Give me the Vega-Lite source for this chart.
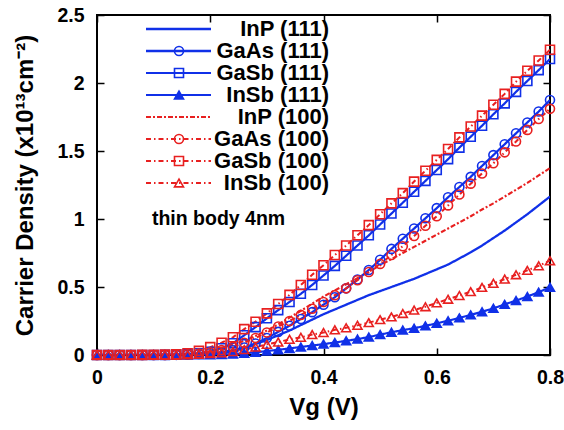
{
"$schema":"https://vega.github.io/schema/vega-lite/v6.json",
"width":453,"height":340,
"autosize":{"type":"none"},
"padding":{"left":97,"top":15,"right":14,"bottom":75},
"background":"white",
"config":{
 "font":"Liberation Sans",
 "view":{"stroke":"black","strokeWidth":2},
 "axis":{"labelFont":"Liberation Sans","labelFontSize":19.5,"labelFontWeight":"bold","labelColor":"black","titleFont":"Liberation Sans","titleFontSize":24,"titleFontWeight":"bold","titleColor":"black","grid":false,"domain":false,"tickColor":"black","tickWidth":1.5,"tickSize":-7},
 "legend":{"labelFont":"Liberation Sans","labelFontSize":22,"labelFontWeight":"bold","labelColor":"black","padding":0,"rowPadding":-1.1}
},
"data":{"values":[
{"s":"InP (111)","x":0,"y":0},{"s":"InP (111)","x":0.02,"y":0},{"s":"InP (111)","x":0.04,"y":0},{"s":"InP (111)","x":0.06,"y":0},{"s":"InP (111)","x":0.08,"y":0},{"s":"InP (111)","x":0.1,"y":0},{"s":"InP (111)","x":0.12,"y":0},{"s":"InP (111)","x":0.14,"y":0},{"s":"InP (111)","x":0.16,"y":0.001},{"s":"InP (111)","x":0.18,"y":0.003},{"s":"InP (111)","x":0.2,"y":0.008},{"s":"InP (111)","x":0.22,"y":0.016},{"s":"InP (111)","x":0.24,"y":0.028},{"s":"InP (111)","x":0.26,"y":0.05},{"s":"InP (111)","x":0.28,"y":0.08},{"s":"InP (111)","x":0.3,"y":0.11},{"s":"InP (111)","x":0.32,"y":0.145},{"s":"InP (111)","x":0.34,"y":0.18},{"s":"InP (111)","x":0.36,"y":0.22},{"s":"InP (111)","x":0.38,"y":0.26},{"s":"InP (111)","x":0.4,"y":0.3},{"s":"InP (111)","x":0.42,"y":0.335},{"s":"InP (111)","x":0.44,"y":0.37},{"s":"InP (111)","x":0.46,"y":0.405},{"s":"InP (111)","x":0.48,"y":0.44},{"s":"InP (111)","x":0.5,"y":0.47},{"s":"InP (111)","x":0.52,"y":0.5},{"s":"InP (111)","x":0.54,"y":0.53},{"s":"InP (111)","x":0.56,"y":0.56},{"s":"InP (111)","x":0.58,"y":0.595},{"s":"InP (111)","x":0.6,"y":0.63},{"s":"InP (111)","x":0.62,"y":0.665},{"s":"InP (111)","x":0.64,"y":0.71},{"s":"InP (111)","x":0.66,"y":0.755},{"s":"InP (111)","x":0.68,"y":0.805},{"s":"InP (111)","x":0.7,"y":0.86},{"s":"InP (111)","x":0.72,"y":0.915},{"s":"InP (111)","x":0.74,"y":0.975},{"s":"InP (111)","x":0.76,"y":1.035},{"s":"InP (111)","x":0.78,"y":1.1},{"s":"InP (111)","x":0.8,"y":1.165},
{"s":"GaAs (111)","x":0,"y":0},{"s":"GaAs (111)","x":0.02,"y":0},{"s":"GaAs (111)","x":0.04,"y":0},{"s":"GaAs (111)","x":0.06,"y":0},{"s":"GaAs (111)","x":0.08,"y":0},{"s":"GaAs (111)","x":0.1,"y":0},{"s":"GaAs (111)","x":0.12,"y":0},{"s":"GaAs (111)","x":0.14,"y":0.001},{"s":"GaAs (111)","x":0.16,"y":0.003},{"s":"GaAs (111)","x":0.18,"y":0.007},{"s":"GaAs (111)","x":0.2,"y":0.013},{"s":"GaAs (111)","x":0.22,"y":0.022},{"s":"GaAs (111)","x":0.24,"y":0.035},{"s":"GaAs (111)","x":0.26,"y":0.055},{"s":"GaAs (111)","x":0.28,"y":0.085},{"s":"GaAs (111)","x":0.3,"y":0.125},{"s":"GaAs (111)","x":0.32,"y":0.17},{"s":"GaAs (111)","x":0.34,"y":0.215},{"s":"GaAs (111)","x":0.36,"y":0.265},{"s":"GaAs (111)","x":0.38,"y":0.315},{"s":"GaAs (111)","x":0.4,"y":0.37},{"s":"GaAs (111)","x":0.42,"y":0.425},{"s":"GaAs (111)","x":0.44,"y":0.49},{"s":"GaAs (111)","x":0.46,"y":0.555},{"s":"GaAs (111)","x":0.48,"y":0.625},{"s":"GaAs (111)","x":0.5,"y":0.7},{"s":"GaAs (111)","x":0.52,"y":0.78},{"s":"GaAs (111)","x":0.54,"y":0.855},{"s":"GaAs (111)","x":0.56,"y":0.93},{"s":"GaAs (111)","x":0.58,"y":1.005},{"s":"GaAs (111)","x":0.6,"y":1.08},{"s":"GaAs (111)","x":0.62,"y":1.16},{"s":"GaAs (111)","x":0.64,"y":1.235},{"s":"GaAs (111)","x":0.66,"y":1.31},{"s":"GaAs (111)","x":0.68,"y":1.39},{"s":"GaAs (111)","x":0.7,"y":1.47},{"s":"GaAs (111)","x":0.72,"y":1.55},{"s":"GaAs (111)","x":0.74,"y":1.63},{"s":"GaAs (111)","x":0.76,"y":1.71},{"s":"GaAs (111)","x":0.78,"y":1.79},{"s":"GaAs (111)","x":0.8,"y":1.875},
{"s":"GaSb (111)","x":0,"y":0},{"s":"GaSb (111)","x":0.02,"y":0},{"s":"GaSb (111)","x":0.04,"y":0},{"s":"GaSb (111)","x":0.06,"y":0},{"s":"GaSb (111)","x":0.08,"y":0},{"s":"GaSb (111)","x":0.1,"y":0},{"s":"GaSb (111)","x":0.12,"y":0.001},{"s":"GaSb (111)","x":0.14,"y":0.003},{"s":"GaSb (111)","x":0.16,"y":0.007},{"s":"GaSb (111)","x":0.18,"y":0.013},{"s":"GaSb (111)","x":0.2,"y":0.024},{"s":"GaSb (111)","x":0.22,"y":0.05},{"s":"GaSb (111)","x":0.24,"y":0.086},{"s":"GaSb (111)","x":0.26,"y":0.145},{"s":"GaSb (111)","x":0.28,"y":0.205},{"s":"GaSb (111)","x":0.3,"y":0.27},{"s":"GaSb (111)","x":0.32,"y":0.33},{"s":"GaSb (111)","x":0.34,"y":0.39},{"s":"GaSb (111)","x":0.36,"y":0.45},{"s":"GaSb (111)","x":0.38,"y":0.515},{"s":"GaSb (111)","x":0.4,"y":0.585},{"s":"GaSb (111)","x":0.42,"y":0.655},{"s":"GaSb (111)","x":0.44,"y":0.73},{"s":"GaSb (111)","x":0.46,"y":0.805},{"s":"GaSb (111)","x":0.48,"y":0.88},{"s":"GaSb (111)","x":0.5,"y":0.96},{"s":"GaSb (111)","x":0.52,"y":1.04},{"s":"GaSb (111)","x":0.54,"y":1.12},{"s":"GaSb (111)","x":0.56,"y":1.2},{"s":"GaSb (111)","x":0.58,"y":1.28},{"s":"GaSb (111)","x":0.6,"y":1.36},{"s":"GaSb (111)","x":0.62,"y":1.44},{"s":"GaSb (111)","x":0.64,"y":1.525},{"s":"GaSb (111)","x":0.66,"y":1.605},{"s":"GaSb (111)","x":0.68,"y":1.686},{"s":"GaSb (111)","x":0.7,"y":1.77},{"s":"GaSb (111)","x":0.72,"y":1.85},{"s":"GaSb (111)","x":0.74,"y":1.935},{"s":"GaSb (111)","x":0.76,"y":2.015},{"s":"GaSb (111)","x":0.78,"y":2.095},{"s":"GaSb (111)","x":0.8,"y":2.176},
{"s":"InSb (111)","x":0,"y":0},{"s":"InSb (111)","x":0.02,"y":0},{"s":"InSb (111)","x":0.04,"y":0},{"s":"InSb (111)","x":0.06,"y":0},{"s":"InSb (111)","x":0.08,"y":0},{"s":"InSb (111)","x":0.1,"y":0},{"s":"InSb (111)","x":0.12,"y":0},{"s":"InSb (111)","x":0.14,"y":0},{"s":"InSb (111)","x":0.16,"y":0},{"s":"InSb (111)","x":0.18,"y":0.001},{"s":"InSb (111)","x":0.2,"y":0.002},{"s":"InSb (111)","x":0.22,"y":0.004},{"s":"InSb (111)","x":0.24,"y":0.007},{"s":"InSb (111)","x":0.26,"y":0.012},{"s":"InSb (111)","x":0.28,"y":0.02},{"s":"InSb (111)","x":0.3,"y":0.029},{"s":"InSb (111)","x":0.32,"y":0.038},{"s":"InSb (111)","x":0.34,"y":0.048},{"s":"InSb (111)","x":0.36,"y":0.059},{"s":"InSb (111)","x":0.38,"y":0.069},{"s":"InSb (111)","x":0.4,"y":0.08},{"s":"InSb (111)","x":0.42,"y":0.092},{"s":"InSb (111)","x":0.44,"y":0.104},{"s":"InSb (111)","x":0.46,"y":0.117},{"s":"InSb (111)","x":0.48,"y":0.132},{"s":"InSb (111)","x":0.5,"y":0.15},{"s":"InSb (111)","x":0.52,"y":0.167},{"s":"InSb (111)","x":0.54,"y":0.183},{"s":"InSb (111)","x":0.56,"y":0.197},{"s":"InSb (111)","x":0.58,"y":0.214},{"s":"InSb (111)","x":0.6,"y":0.233},{"s":"InSb (111)","x":0.62,"y":0.252},{"s":"InSb (111)","x":0.64,"y":0.273},{"s":"InSb (111)","x":0.66,"y":0.295},{"s":"InSb (111)","x":0.68,"y":0.318},{"s":"InSb (111)","x":0.7,"y":0.343},{"s":"InSb (111)","x":0.72,"y":0.372},{"s":"InSb (111)","x":0.74,"y":0.4},{"s":"InSb (111)","x":0.76,"y":0.43},{"s":"InSb (111)","x":0.78,"y":0.462},{"s":"InSb (111)","x":0.8,"y":0.498},
{"s":"InP (100)","x":0,"y":0},{"s":"InP (100)","x":0.02,"y":0},{"s":"InP (100)","x":0.04,"y":0},{"s":"InP (100)","x":0.06,"y":0},{"s":"InP (100)","x":0.08,"y":0},{"s":"InP (100)","x":0.1,"y":0},{"s":"InP (100)","x":0.12,"y":0},{"s":"InP (100)","x":0.14,"y":0.002},{"s":"InP (100)","x":0.16,"y":0.006},{"s":"InP (100)","x":0.18,"y":0.014},{"s":"InP (100)","x":0.2,"y":0.028},{"s":"InP (100)","x":0.22,"y":0.048},{"s":"InP (100)","x":0.24,"y":0.075},{"s":"InP (100)","x":0.26,"y":0.105},{"s":"InP (100)","x":0.28,"y":0.14},{"s":"InP (100)","x":0.3,"y":0.18},{"s":"InP (100)","x":0.32,"y":0.225},{"s":"InP (100)","x":0.34,"y":0.275},{"s":"InP (100)","x":0.36,"y":0.325},{"s":"InP (100)","x":0.38,"y":0.377},{"s":"InP (100)","x":0.4,"y":0.43},{"s":"InP (100)","x":0.42,"y":0.475},{"s":"InP (100)","x":0.44,"y":0.52},{"s":"InP (100)","x":0.46,"y":0.565},{"s":"InP (100)","x":0.48,"y":0.612},{"s":"InP (100)","x":0.5,"y":0.66},{"s":"InP (100)","x":0.52,"y":0.705},{"s":"InP (100)","x":0.54,"y":0.75},{"s":"InP (100)","x":0.56,"y":0.795},{"s":"InP (100)","x":0.58,"y":0.84},{"s":"InP (100)","x":0.6,"y":0.885},{"s":"InP (100)","x":0.62,"y":0.93},{"s":"InP (100)","x":0.64,"y":0.975},{"s":"InP (100)","x":0.66,"y":1.02},{"s":"InP (100)","x":0.68,"y":1.07},{"s":"InP (100)","x":0.7,"y":1.115},{"s":"InP (100)","x":0.72,"y":1.165},{"s":"InP (100)","x":0.74,"y":1.215},{"s":"InP (100)","x":0.76,"y":1.265},{"s":"InP (100)","x":0.78,"y":1.32},{"s":"InP (100)","x":0.8,"y":1.375},
{"s":"GaAs (100)","x":0,"y":0},{"s":"GaAs (100)","x":0.02,"y":0},{"s":"GaAs (100)","x":0.04,"y":0},{"s":"GaAs (100)","x":0.06,"y":0},{"s":"GaAs (100)","x":0.08,"y":0},{"s":"GaAs (100)","x":0.1,"y":0},{"s":"GaAs (100)","x":0.12,"y":0},{"s":"GaAs (100)","x":0.14,"y":0.002},{"s":"GaAs (100)","x":0.16,"y":0.005},{"s":"GaAs (100)","x":0.18,"y":0.011},{"s":"GaAs (100)","x":0.2,"y":0.02},{"s":"GaAs (100)","x":0.22,"y":0.037},{"s":"GaAs (100)","x":0.24,"y":0.06},{"s":"GaAs (100)","x":0.26,"y":0.09},{"s":"GaAs (100)","x":0.28,"y":0.125},{"s":"GaAs (100)","x":0.3,"y":0.165},{"s":"GaAs (100)","x":0.32,"y":0.21},{"s":"GaAs (100)","x":0.34,"y":0.25},{"s":"GaAs (100)","x":0.36,"y":0.295},{"s":"GaAs (100)","x":0.38,"y":0.34},{"s":"GaAs (100)","x":0.4,"y":0.39},{"s":"GaAs (100)","x":0.42,"y":0.44},{"s":"GaAs (100)","x":0.44,"y":0.49},{"s":"GaAs (100)","x":0.46,"y":0.55},{"s":"GaAs (100)","x":0.48,"y":0.61},{"s":"GaAs (100)","x":0.5,"y":0.67},{"s":"GaAs (100)","x":0.52,"y":0.735},{"s":"GaAs (100)","x":0.54,"y":0.8},{"s":"GaAs (100)","x":0.56,"y":0.875},{"s":"GaAs (100)","x":0.58,"y":0.95},{"s":"GaAs (100)","x":0.6,"y":1.02},{"s":"GaAs (100)","x":0.62,"y":1.1},{"s":"GaAs (100)","x":0.64,"y":1.18},{"s":"GaAs (100)","x":0.66,"y":1.26},{"s":"GaAs (100)","x":0.68,"y":1.335},{"s":"GaAs (100)","x":0.7,"y":1.41},{"s":"GaAs (100)","x":0.72,"y":1.49},{"s":"GaAs (100)","x":0.74,"y":1.57},{"s":"GaAs (100)","x":0.76,"y":1.655},{"s":"GaAs (100)","x":0.78,"y":1.735},{"s":"GaAs (100)","x":0.8,"y":1.81},
{"s":"GaSb (100)","x":0,"y":0},{"s":"GaSb (100)","x":0.02,"y":0},{"s":"GaSb (100)","x":0.04,"y":0},{"s":"GaSb (100)","x":0.06,"y":0},{"s":"GaSb (100)","x":0.08,"y":0.001},{"s":"GaSb (100)","x":0.1,"y":0.002},{"s":"GaSb (100)","x":0.12,"y":0.003},{"s":"GaSb (100)","x":0.14,"y":0.006},{"s":"GaSb (100)","x":0.16,"y":0.013},{"s":"GaSb (100)","x":0.18,"y":0.03},{"s":"GaSb (100)","x":0.2,"y":0.058},{"s":"GaSb (100)","x":0.22,"y":0.09},{"s":"GaSb (100)","x":0.24,"y":0.13},{"s":"GaSb (100)","x":0.26,"y":0.19},{"s":"GaSb (100)","x":0.28,"y":0.245},{"s":"GaSb (100)","x":0.3,"y":0.306},{"s":"GaSb (100)","x":0.32,"y":0.375},{"s":"GaSb (100)","x":0.34,"y":0.442},{"s":"GaSb (100)","x":0.36,"y":0.515},{"s":"GaSb (100)","x":0.38,"y":0.59},{"s":"GaSb (100)","x":0.4,"y":0.66},{"s":"GaSb (100)","x":0.42,"y":0.735},{"s":"GaSb (100)","x":0.44,"y":0.805},{"s":"GaSb (100)","x":0.46,"y":0.88},{"s":"GaSb (100)","x":0.48,"y":0.955},{"s":"GaSb (100)","x":0.5,"y":1.035},{"s":"GaSb (100)","x":0.52,"y":1.115},{"s":"GaSb (100)","x":0.54,"y":1.19},{"s":"GaSb (100)","x":0.56,"y":1.275},{"s":"GaSb (100)","x":0.58,"y":1.355},{"s":"GaSb (100)","x":0.6,"y":1.435},{"s":"GaSb (100)","x":0.62,"y":1.515},{"s":"GaSb (100)","x":0.64,"y":1.6},{"s":"GaSb (100)","x":0.66,"y":1.68},{"s":"GaSb (100)","x":0.68,"y":1.76},{"s":"GaSb (100)","x":0.7,"y":1.84},{"s":"GaSb (100)","x":0.72,"y":1.92},{"s":"GaSb (100)","x":0.74,"y":2.01},{"s":"GaSb (100)","x":0.76,"y":2.09},{"s":"GaSb (100)","x":0.78,"y":2.165},{"s":"GaSb (100)","x":0.8,"y":2.245},
{"s":"InSb (100)","x":0,"y":0},{"s":"InSb (100)","x":0.02,"y":0},{"s":"InSb (100)","x":0.04,"y":0},{"s":"InSb (100)","x":0.06,"y":0},{"s":"InSb (100)","x":0.08,"y":0},{"s":"InSb (100)","x":0.1,"y":0},{"s":"InSb (100)","x":0.12,"y":0},{"s":"InSb (100)","x":0.14,"y":0},{"s":"InSb (100)","x":0.16,"y":0.002},{"s":"InSb (100)","x":0.18,"y":0.005},{"s":"InSb (100)","x":0.2,"y":0.01},{"s":"InSb (100)","x":0.22,"y":0.017},{"s":"InSb (100)","x":0.24,"y":0.025},{"s":"InSb (100)","x":0.26,"y":0.04},{"s":"InSb (100)","x":0.28,"y":0.058},{"s":"InSb (100)","x":0.3,"y":0.078},{"s":"InSb (100)","x":0.32,"y":0.095},{"s":"InSb (100)","x":0.34,"y":0.115},{"s":"InSb (100)","x":0.36,"y":0.13},{"s":"InSb (100)","x":0.38,"y":0.15},{"s":"InSb (100)","x":0.4,"y":0.165},{"s":"InSb (100)","x":0.42,"y":0.185},{"s":"InSb (100)","x":0.44,"y":0.2},{"s":"InSb (100)","x":0.46,"y":0.218},{"s":"InSb (100)","x":0.48,"y":0.238},{"s":"InSb (100)","x":0.5,"y":0.26},{"s":"InSb (100)","x":0.52,"y":0.28},{"s":"InSb (100)","x":0.54,"y":0.305},{"s":"InSb (100)","x":0.56,"y":0.33},{"s":"InSb (100)","x":0.58,"y":0.355},{"s":"InSb (100)","x":0.6,"y":0.383},{"s":"InSb (100)","x":0.62,"y":0.41},{"s":"InSb (100)","x":0.64,"y":0.437},{"s":"InSb (100)","x":0.66,"y":0.466},{"s":"InSb (100)","x":0.68,"y":0.497},{"s":"InSb (100)","x":0.7,"y":0.527},{"s":"InSb (100)","x":0.72,"y":0.558},{"s":"InSb (100)","x":0.74,"y":0.59},{"s":"InSb (100)","x":0.76,"y":0.622},{"s":"InSb (100)","x":0.78,"y":0.656},{"s":"InSb (100)","x":0.8,"y":0.693}
]},
"resolve":{"axis":{"x":"independent","y":"independent"}},
"layer":[
 {"mark":{"type":"line","clip":true},
  "encoding":{
   "x":{"field":"x","type":"quantitative","scale":{"domain":[0,0.8],"nice":false},"axis":{"values":[0,0.2,0.4,0.6,0.8],"format":"~g","title":"Vg (V)","labelPadding":20,"titlePadding":9,"labelFlush":false}},
   "y":{"field":"y","type":"quantitative","scale":{"domain":[0,2.5],"nice":false},"axis":{"values":[0,0.5,1,1.5,2,2.5],"format":"~g","title":"Carrier Density (x10¹³cm⁻²)","labelPadding":20,"titlePadding":19,"labelFlush":false}},
   "color":{"field":"s","type":"nominal","scale":{"domain":["InP (111)","GaAs (111)","GaSb (111)","InSb (111)","InP (100)","GaAs (100)","GaSb (100)","InSb (100)"],"range":["#1030e8","#1030e8","#1030e8","#1030e8","#e82020","#e82020","#e82020","#e82020"]},
     "legend":{"title":null,"orient":"none","legendX":70.5,"legendY":3,"symbolType":"M-6.5,0H6.5","symbolSize":100,"labelAlign":"right","labelOffset":139.5,"labelLimit":400}},
   "strokeDash":{"field":"s","type":"nominal","scale":{"domain":["InP (111)","GaAs (111)","GaSb (111)","InSb (111)","InP (100)","GaAs (100)","GaSb (100)","InSb (100)"],"range":[[1,0],[1,0],[1,0],[1,0],[5,2,2,2],[5,3,1.5,3],[5,3,1.5,3],[5,3,1.5,3]]}},
   "strokeWidth":{"field":"s","type":"nominal","scale":{"domain":["InP (111)","GaAs (111)","GaSb (111)","InSb (111)","InP (100)","GaAs (100)","GaSb (100)","InSb (100)"],"range":[2.3,2,2,2,3.5,1.3,1.3,1.3]}}
  }},
 {"mark":{"type":"point","opacity":1,"strokeWidth":1.6,"clip":false},
  "encoding":{
   "x":{"field":"x","type":"quantitative","axis":null},
   "y":{"field":"y","type":"quantitative","axis":null},
   "shape":{"field":"s","type":"nominal","scale":{"domain":["InP (111)","GaAs (111)","GaSb (111)","InSb (111)","InP (100)","GaAs (100)","GaSb (100)","InSb (100)","InSb (100)"],"range":["M0,0","circle","square","triangle-up","M0,0","circle","square","triangle-up"]},
     "legend":{"title":null,"orient":"none","legendX":71,"legendY":3,"symbolSize":81,"symbolStrokeWidth":1.6,"labelOpacity":0,"symbolOpacity":1,"labelOffset":153}},
   "stroke":{"field":"s","type":"nominal","scale":{"domain":["InP (111)","GaAs (111)","GaSb (111)","InSb (111)","InP (100)","GaAs (100)","GaSb (100)","InSb (100)","InSb (100)"],"range":["#1030e8","#1030e8","#1030e8","#1030e8","#e82020","#e82020","#e82020","#e82020"]}},
   "fill":{"field":"s","type":"nominal","scale":{"domain":["InP (111)","GaAs (111)","GaSb (111)","InSb (111)","InP (100)","GaAs (100)","GaSb (100)","InSb (100)","InSb (100)"],"range":["transparent","transparent","transparent","#1030e8","transparent","transparent","transparent","transparent"]}},
   "size":{"value":81}
  }},
 {"data":{"values":[{}]},
  "mark":{"type":"text","align":"left","baseline":"middle","fontSize":19.5,"fontWeight":"bold","font":"Liberation Sans","color":"black"},
  "encoding":{
   "x":{"datum":0.097,"type":"quantitative","axis":{"orient":"top","labels":false,"title":null,"values":[0,0.2,0.4,0.6,0.8]}},
   "y":{"datum":1.0,"type":"quantitative","axis":{"orient":"right","labels":false,"title":null,"values":[0,0.5,1,1.5,2,2.5]}},
   "text":{"value":"thin body 4nm"}
  }}
]
}
